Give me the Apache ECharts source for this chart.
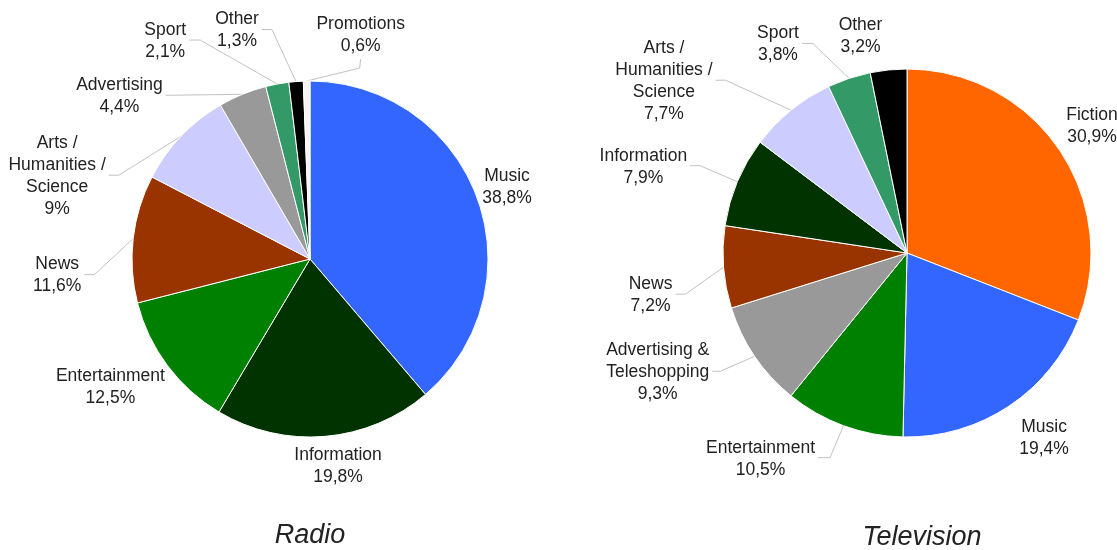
<!DOCTYPE html>
<html>
<head>
<meta charset="utf-8">
<script src="https://cdn.jsdelivr.net/npm/echarts@6/dist/echarts.min.js"></script>
<style>
  html, body { margin: 0; padding: 0; background: #fff; }
  #chart { width: 1117px; height: 550px; }
</style>
</head>
<body>
<div id="chart"></div>
<script>
// Share of broadcast time by programme genre (%)
const radioCategories = ['Music', 'Information', 'Entertainment', 'News', 'Arts /\nHumanities /\nScience', 'Advertising', 'Sport', 'Other', 'Promotions'];
const radioValues = [38.8, 19.8, 12.5, 11.6, 9, 4.4, 2.1, 1.3, 0.6];

const tvCategories = ['Fiction', 'Music', 'Entertainment', 'Advertising &\nTeleshopping', 'News', 'Information', 'Arts /\nHumanities /\nScience', 'Sport', 'Other'];
const tvValues = [30.9, 19.4, 10.5, 9.3, 7.2, 7.9, 7.7, 3.8, 3.2];

const chartTitles = ['Radio', 'Television'];

// Genre colours
const genreColors = {
  'Music': '#3366ff',
  'Information': '#003300',
  'Entertainment': '#008000',
  'News': '#993300',
  'Arts /\nHumanities /\nScience': '#ccccff',
  'Advertising': '#999999',
  'Advertising &\nTeleshopping': '#999999',
  'Sport': '#339966',
  'Other': '#000000',
  'Promotions': '#f4f4f4',
  'Fiction': '#ff6600'
};

// Label placement: offset of the label block centre from the point where the
// slice's outer arc meets its bisector; `line` = leader style
// ('side' = elbow to the side of the label, 'below' = from under the label, null = none)
const radioLabelPlacement = [
  { dx: 30, dy: -10, line: null },              // Music
  { dx: 13, dy: 30, line: null },               // Information
  { dx: -57, dy: 22, line: null },              // Entertainment
  { dx: -76, dy: 37, line: 'side', elbow: 10 }, // News
  { dx: -124, dy: 40, line: 'side', elbow: 10 },// Arts
  { dx: -123, dy: 2, line: 'side', elbow: 0 },  // Advertising
  { dx: -112, dy: -43, line: 'side', elbow: 11 },// Sport
  { dx: -59, dy: -51, line: 'side', elbow: 10 },// Other
  { dx: 54, dy: -46, line: 'below', elbow: 9 }  // Promotions
];
const tvLabelPlacement = [
  { dx: 33, dy: -23, line: null },              // Fiction
  { dx: 35, dy: 32, line: null },               // Music
  { dx: -83, dy: 33, line: 'side', elbow: 12 }, // Entertainment
  { dx: -97, dy: 16, line: 'side', elbow: 8 },  // Advertising & Teleshopping
  { dx: -73, dy: 28, line: 'side', elbow: 10 }, // News
  { dx: -94, dy: -15, line: 'side', elbow: 10 },// Information
  { dx: -127, dy: -29, line: 'side', elbow: 10 },// Arts
  { dx: -71, dy: -34, line: 'side', elbow: 11 },// Sport
  { dx: -28, dy: -34, line: null }              // Other
];
const placements = [radioLabelPlacement, tvLabelPlacement];

const FONT = '"Liberation Sans", Arial, sans-serif';
const LABEL_SIZE = 17.5;
const LABEL_LINE_H = 22;

function fmtValue(v) {
  return String(v).replace('.', ',') + '%';
}

// Every line of a label is centred inside the label block
function labelText(p) {
  const lines = p.name.split('\n').concat([fmtValue(p.value)]);
  return lines.map(l => '{c|' + l + '}').join('\n');
}

function buildData(cats, vals, place) {
  return cats.map((c, i) => ({
    name: c,
    value: vals[i],
    itemStyle: { color: genreColors[c] },
    labelLine: place[i].line ? {} : { lineStyle: { opacity: 0 } }
  }));
}

function layoutLabel(params) {
  const spec = placements[params.seriesIndex][params.dataIndex];
  const pts = params.labelLinePoints;
  if (!pts) return {};
  const edge = pts[0];
  const w = params.labelRect.width;
  const h = params.labelRect.height;
  const x = edge[0] + spec.dx;
  const y = edge[1] + spec.dy;
  const out = { x: x, y: y, align: 'center', verticalAlign: 'middle' };
  if (spec.line === 'side') {
    const sign = spec.dx < 0 ? 1 : -1;
    const sideX = x + sign * (w / 2 + 3);
    const ly = y - 1;
    out.labelLinePoints = [edge, [sideX + sign * spec.elbow, ly], [sideX, ly]];
  } else if (spec.line === 'below') {
    const by = y + h / 2 + 2;
    out.labelLinePoints = [edge, [x - 1, by + spec.elbow], [x, by]];
  } else {
    out.labelLinePoints = [edge, edge, edge];
  }
  return out;
}

function pieSeries(cats, vals, center, radius, place) {
  return {
    type: 'pie',
    center: center,
    radius: radius,
    startAngle: 90,
    clockwise: true,
    avoidLabelOverlap: false,
    itemStyle: { borderColor: '#ffffff', borderWidth: 1 },
    label: {
      show: true,
      position: 'outside',
      formatter: labelText,
      color: '#222222',
      fontFamily: FONT,
      fontSize: LABEL_SIZE,
      lineHeight: LABEL_LINE_H,
      rich: { c: { align: 'center', color: '#222222', fontFamily: FONT, fontSize: LABEL_SIZE, lineHeight: LABEL_LINE_H } }
    },
    labelLine: {
      show: true,
      length: 10,
      length2: 10,
      lineStyle: { color: '#c2c2c2', width: 1 }
    },
    labelLayout: layoutLabel,
    emphasis: { disabled: true },
    data: buildData(cats, vals, place)
  };
}

const titleStyle = { fontFamily: FONT, fontStyle: 'italic', fontSize: 27, fill: '#222222', textAlign: 'center', textVerticalAlign: 'middle' };

const chart = echarts.init(document.getElementById('chart'), null, { renderer: 'canvas' });
chart.setOption({
  backgroundColor: '#ffffff',
  animation: false,
  graphic: [
    { type: 'text', x: 310, y: 535, style: Object.assign({ text: chartTitles[0] }, titleStyle) },
    { type: 'text', x: 922, y: 537, style: Object.assign({ text: chartTitles[1] }, titleStyle) }
  ],
  series: [
    pieSeries(radioCategories, radioValues, [310, 259], 178, radioLabelPlacement),
    pieSeries(tvCategories, tvValues, [907, 253], 184, tvLabelPlacement)
  ]
});
</script>
</body>
</html>
